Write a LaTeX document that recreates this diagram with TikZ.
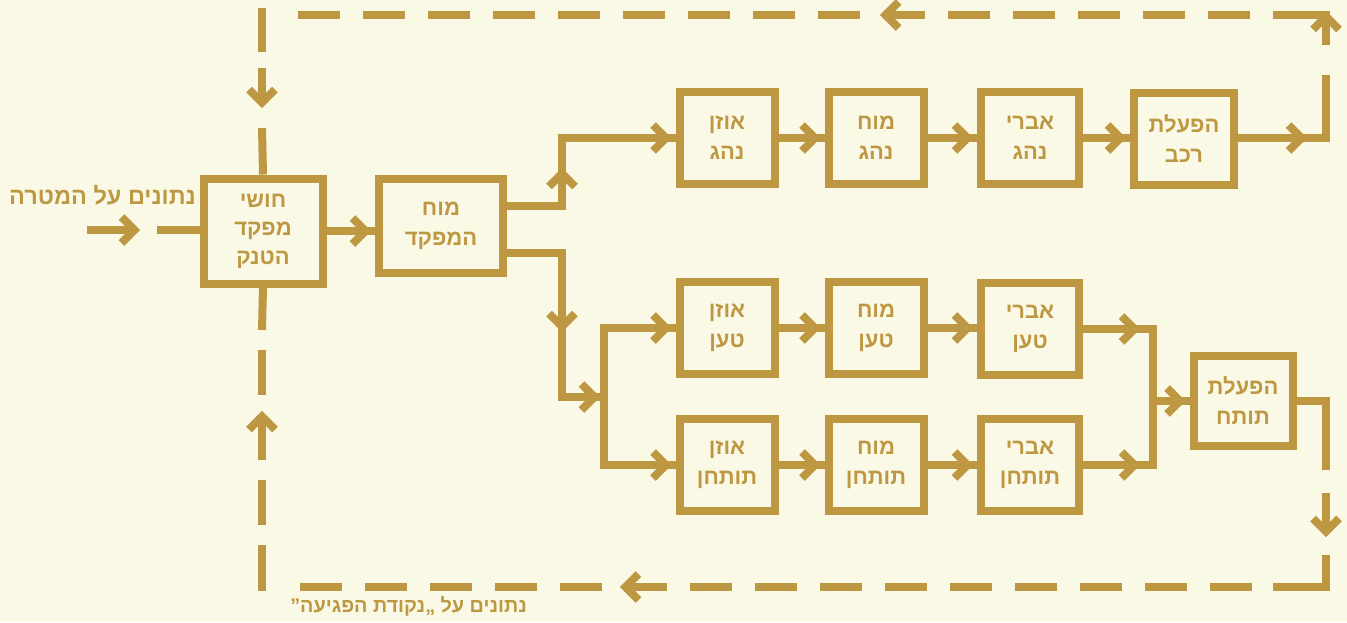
\documentclass[tikz,border=0pt]{standalone}
\usepackage{fontspec}
\newfontfamily\hebfont[Script=Hebrew]{Liberation Sans}
\TeXXeTstate=1
\newcommand{\hb}[1]{\beginR #1\endR}
\definecolor{gold}{RGB}{190,151,66}
\definecolor{paper}{RGB}{250,249,230}
\tikzset{
  conn/.style={draw=gold, line width=8pt, line cap=butt, line join=miter},
  dashline/.style={conn, dash pattern=on 42pt off 23pt},
  box/.style={draw=gold, line width=8pt, minimum width=95pt, minimum height=92pt,
    inner sep=0pt, align=center, text=gold,
    font=\hebfont\bfseries\fontsize{22}{30}\selectfont},
  lbl/.style={text=gold, inner sep=0pt, font=\hebfont\bfseries\fontsize{22}{26}\selectfont},
  pics/chev/.style={code={\draw[conn] (-18.5,-13) -- (-5.5,0) -- (-18.5,13);}},
  pics/chevin/.style={code={\draw[conn] (-22.5,-13) -- (-9.5,0) -- (-22.5,13);}},
}
\begin{document}
\begin{tikzpicture}[x=1pt,y=-1pt]
\fill[paper] (0,0) rectangle (1347,622);
\useasboundingbox (0,0) rectangle (1347,622);

% boxes
\node[box, minimum width=119pt, minimum height=105pt,
  font=\hebfont\bfseries\fontsize{22}{28.5}\selectfont] (b1) at (263,231) {\hb{חושי}\\\hb{מפקד}\\\hb{הטנק}};
\node[box, minimum width=124pt, minimum height=94pt] (b2) at (441,226) {\hb{מוח}\\\hb{המפקד}};

\node[box] (n1) at (727,138) {\hb{אוזן}\\\hb{נהג}};
\node[box] (n2) at (876,138) {\hb{מוח}\\\hb{נהג}};
\node[box, minimum width=98pt] (n3) at (1030,138) {\hb{אברי}\\\hb{נהג}};
\node[box, minimum width=100pt] (n4) at (1184,139) {\hb{הפעלת}\\\hb{רכב}};

\node[box] (t1) at (727,328) {\hb{אוזן}\\\hb{טען}};
\node[box] (t2) at (876,328) {\hb{מוח}\\\hb{טען}};
\node[box, minimum width=98pt] (t3) at (1030,329) {\hb{אברי}\\\hb{טען}};

\node[box] (g1) at (727,465) {\hb{אוזן}\\\hb{תותחן}};
\node[box] (g2) at (876,465) {\hb{מוח}\\\hb{תותחן}};
\node[box, minimum width=98pt] (g3) at (1030,465) {\hb{אברי}\\\hb{תותחן}};

\node[box, minimum width=99pt, minimum height=90pt] (gun) at (1243,401) {\hb{הפעלת}\\\hb{תותח}};

% labels
\node[lbl, anchor=east, font=\hebfont\bfseries\fontsize{23.5}{26}\selectfont] (inlbl) at (196,195) {\hb{נתונים על המטרה}};
\node[lbl, anchor=east, font=\hebfont\bfseries\fontsize{19.8}{24}\selectfont] (outlbl) at (527,606) {\hb{נתונים על „נקודת הפגיעה”}};

% input
\coordinate (inA) at (87,230);
\coordinate (inB) at (135,230);
\coordinate (inC) at (157,230);
\draw[conn] (inA) -- (inB);
\pic at (140,230) {chev};
\draw[conn] (inC) -- (inC -| b1.west);

% b1 -> b2
\draw[conn] (b1.east) -- (b1.east -| b2.west);
\pic at (b1.east -| b2.west) {chevin};

% upper branch
\coordinate (ua) at (562,206);
\coordinate (ub) at (562,138);
\draw[conn] (ua -| b2.east) -- (ua) -- (ub) -- (n1.west);
\pic[rotate=90] at (562,168) {chev};
\pic at (n1.west) {chevin};

\draw[conn] (n1.east) -- (n2.west); \pic at (n2.west) {chevin};
\draw[conn] (n2.east) -- (n3.west); \pic at (n3.west) {chevin};
\draw[conn] (n3.east) -- (n4.west |- n3.east); \pic at (n4.west |- n3.east) {chevin};

% lower branch
\coordinate (la) at (562,253);
\coordinate (lb) at (562,397);
\coordinate (lc) at (604,397);
\coordinate (ld) at (604,328);
\coordinate (le) at (604,465);
\draw[conn] (la -| b2.east) -- (la) -- (lb) -- (lc);
\pic[rotate=-90] at (562,332) {chev};
\pic at (600,397) {chev};
\draw[conn] (t1.west) -- (ld) -- (le) -- (g1.west);
\pic at (t1.west) {chevin};
\pic at (g1.west) {chevin};

\draw[conn] (t1.east) -- (t2.west); \pic at (t2.west) {chevin};
\draw[conn] (t2.east) -- (t2.east -| t3.west); \pic at (t2.east -| t3.west) {chevin};
\draw[conn] (g1.east) -- (g2.west); \pic at (g2.west) {chevin};
\draw[conn] (g2.east) -- (g3.west); \pic at (g3.west) {chevin};

% merge
\coordinate (mt) at (1153,329);
\coordinate (mb) at (1153,465);
\coordinate (mm) at (1153,401);
\draw[conn] (t3.east) -- (mt) -- (mb) -- (g3.east);
\pic at (1140,329) {chev};
\pic at (1140,465) {chev};
\draw[conn] (mm) -- (gun.west);
\pic at (gun.west) {chevin};

% feedback loop, top
\coordinate (tr) at (1326,15);
\coordinate (rt) at (1326,138);
\draw[conn] (n4.east |- rt) -- (rt) -- (1326,75);
\pic at (1307,138) {chev};
\draw[conn] (1326,45) -- (tr) -- (1273,15);
\pic[rotate=90] at (1326,11) {chev};
\draw[dashline] (1250,15) -- (290,15);
\pic[rotate=180] at (880,15) {chev};
\draw[conn] (262,8) -- (262,52);
\draw[conn] (262,68) -- (262,102);
\pic[rotate=-90] at (262,108) {chev};
\draw[conn] (262,128) -- (b1.north);

% feedback loop, bottom
\coordinate (br) at (1326,587);
\coordinate (rg) at (1326,401);
\draw[conn] (gun.east) -- (rg) -- (1326,470);
\draw[conn] (1326,493) -- (1326,531);
\pic[rotate=-90] at (1326,537) {chev};
\draw[conn] (1326,555) -- (br) -- (1273,587);
\draw[dashline] (1252,587) -- (290,587);
\pic[rotate=180] at (620,587) {chev};
\draw[conn] (b1.south) -- (262,330);
\draw[conn] (262,350) -- (262,395);
\draw[conn] (262,417) -- (262,460);
\pic[rotate=90] at (262,411) {chev};
\draw[conn] (262,480) -- (262,525);
\draw[conn] (262,545) -- (262,591);
\end{tikzpicture}
\end{document}
